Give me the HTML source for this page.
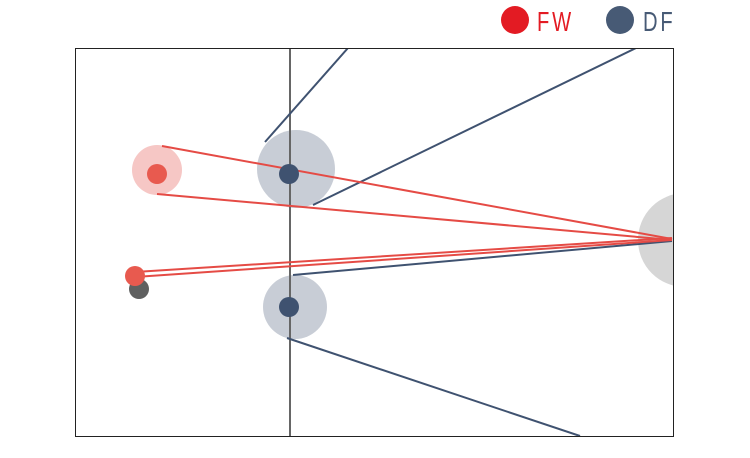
<!DOCTYPE html>
<html><head><style>body{margin:0;background:#fff}svg{display:block}</style></head><body>
<svg width="750" height="458" viewBox="0 0 750 458" xmlns="http://www.w3.org/2000/svg">
<defs><clipPath id="c"><rect x="75" y="48" width="598" height="388"/></clipPath></defs>
<circle cx="515" cy="20" r="14" fill="#e31b23"/>
<text transform="translate(537,31) scale(0.72,1)" font-family="Liberation Sans, sans-serif" font-size="28" fill="#e31b23" letter-spacing="4">FW</text>
<circle cx="620" cy="20" r="14" fill="#475a75"/>
<text transform="translate(643,31) scale(0.72,1)" font-family="Liberation Sans, sans-serif" font-size="28" fill="#475a75" letter-spacing="4">DF</text>
<g clip-path="url(#c)">
<circle cx="685" cy="240" r="47" fill="#d6d6d6"/>
<circle cx="157" cy="170" r="25" fill="#f6c7c5"/>
<circle cx="296" cy="169" r="39" fill="#c8cdd6"/>
<circle cx="295" cy="307" r="32" fill="#c8cdd6"/>
<line x1="290" y1="48" x2="290" y2="436" stroke="#666" stroke-width="2"/>
<g stroke="#3f5270" stroke-width="2" fill="none">
<line x1="265" y1="142" x2="348" y2="48"/>
<line x1="313" y1="205" x2="636" y2="48"/>
<line x1="293" y1="275" x2="672" y2="241"/>
<line x1="287" y1="338" x2="580" y2="436"/>
</g>
<g stroke="#e54b45" stroke-width="2" fill="none">
<line x1="162" y1="146" x2="672" y2="239"/>
<line x1="157" y1="194" x2="672" y2="240"/>
<line x1="135" y1="272" x2="672" y2="238"/>
<line x1="135" y1="277" x2="672" y2="240"/>
</g>
<circle cx="157" cy="174" r="10" fill="#e85a4f"/>
<circle cx="289" cy="174" r="10" fill="#3f5270"/>
<circle cx="289" cy="307" r="10" fill="#3f5270"/>
<circle cx="139" cy="289" r="10" fill="#5f6060"/>
<circle cx="135" cy="276" r="10" fill="#e85a4f"/>
</g>
<rect x="75.5" y="48.5" width="598" height="388" fill="none" stroke="#222" stroke-width="1"/>
</svg>
</body></html>
